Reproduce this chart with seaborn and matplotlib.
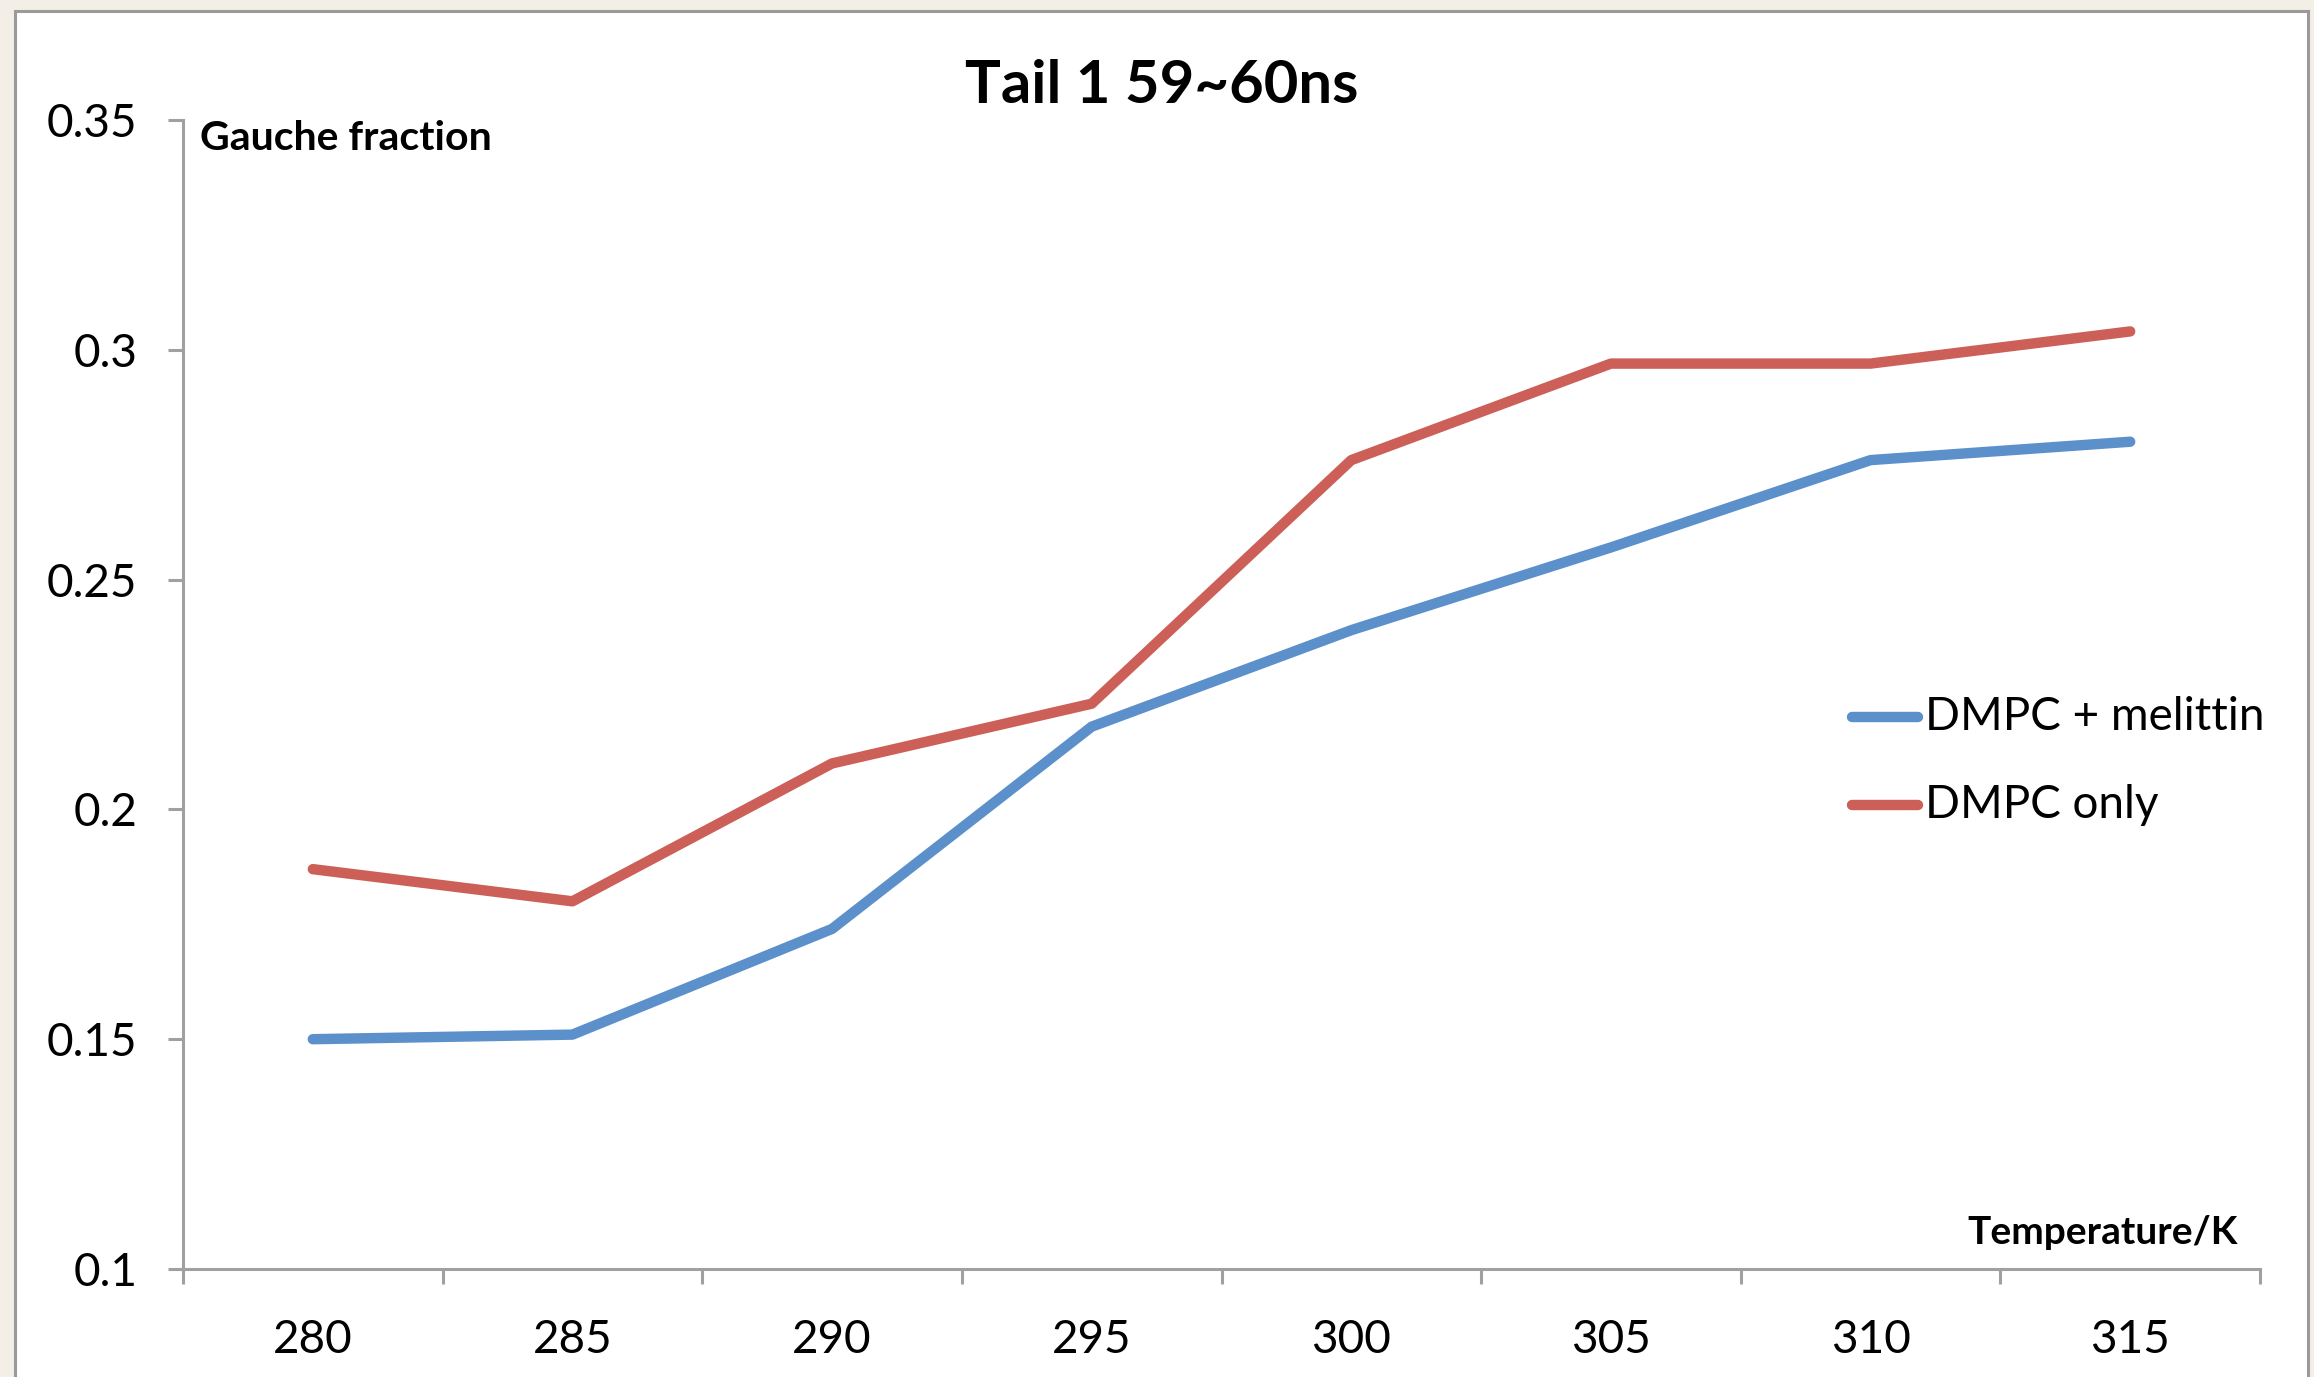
import pandas as pd
import seaborn as sns
import matplotlib.pyplot as plt
from matplotlib.patches import Rectangle

# Data
temperatures = [280, 285, 290, 295, 300, 305, 310, 315]
dmpc_melittin = [0.150, 0.151, 0.174, 0.218, 0.239, 0.257, 0.276, 0.280]
dmpc_only = [0.187, 0.180, 0.210, 0.223, 0.276, 0.297, 0.297, 0.304]
series_names = ["DMPC + melittin", "DMPC only"]
y_ticks = [0.1, 0.15, 0.2, 0.25, 0.3, 0.35]
y_tick_labels = ["0.1", "0.15", "0.2", "0.25", "0.3", "0.35"]

df = pd.DataFrame({
    "temperature": temperatures * 2,
    "gauche": dmpc_melittin + dmpc_only,
    "series": [series_names[0]] * len(temperatures) + [series_names[1]] * len(temperatures),
})

sns.set_style("white")
plt.rcParams["font.family"] = ["Lato", "DejaVu Sans"]
plt.rcParams["text.color"] = "black"
plt.rcParams["xtick.labelcolor"] = "black"
plt.rcParams["ytick.labelcolor"] = "black"

W, H = 2314, 1377
fig = plt.figure(figsize=(W / 100, H / 100), dpi=100)
fig.patch.set_facecolor("#f3efe6")

# white chart panel with grey border
fig.patches.append(Rectangle((15 / W, -0.05), (2308 - 15) / W, 1 - 11 / H + 0.05,
                             transform=fig.transFigure, facecolor="white",
                             edgecolor="#9a9a9a", linewidth=2.2, zorder=-5))

ax = fig.add_axes([183 / W, 1 - 1269 / H, (2260 - 183) / W, (1269 - 120) / H])
ax.set_facecolor("none")
ax.set_zorder(2)

palette = {series_names[0]: "#5b90cb", series_names[1]: "#cc5f57"}
sns.lineplot(data=df, x="temperature", y="gauche", hue="series", palette=palette,
             linewidth=7.5, ax=ax, legend=False, solid_capstyle="round")

ax.set_xlim(277.5, 317.5)
ax.set_ylim(0.1, 0.35)
ax.set_xticks(temperatures)
ax.set_xticklabels([str(t) for t in temperatures], fontsize=33)
ax.set_xticks([277.5 + 5 * i for i in range(9)], minor=True)
ax.tick_params(axis="x", which="major", length=0, pad=36)
ax.tick_params(axis="x", which="minor", length=11, width=2.2, color="#a0a0a0", direction="out", bottom=True)
ax.set_yticks(y_ticks)
ax.set_yticklabels(y_tick_labels, fontsize=33)
ax.tick_params(axis="y", length=11, width=2.2, color="#a0a0a0", direction="out", left=True, pad=22)

sns.despine(ax=ax)
for side in ["left", "bottom"]:
    ax.spines[side].set_color("#a0a0a0")
    ax.spines[side].set_linewidth(2.2)

ax.set_xlabel("")
ax.set_ylabel("")
fig.text(1162 / W, 1 - 86 / H, "Tail 1 59~60ns", fontsize=43, fontweight="bold",
         ha="center", va="center")
fig.text(200 / W, 1 - 138 / H, "Gauche fraction", fontsize=29.5, fontweight="bold",
         ha="left", va="center")
fig.text(2238 / W, 1 - 1232 / H, "Temperature/K", fontsize=28, fontweight="bold",
         ha="right", va="center")

# legend
for i, name in enumerate(series_names):
    yy = 1 - (717 + 88 * i) / H
    fig.add_artist(plt.Line2D([1852 / W, 1918 / W], [yy, yy], transform=fig.transFigure,
                              color=palette[name], linewidth=7.5, solid_capstyle="round"))
    fig.text(1925 / W, yy, name, fontsize=33, ha="left", va="center")

fig.savefig("out.png", dpi=100, facecolor=fig.get_facecolor())
